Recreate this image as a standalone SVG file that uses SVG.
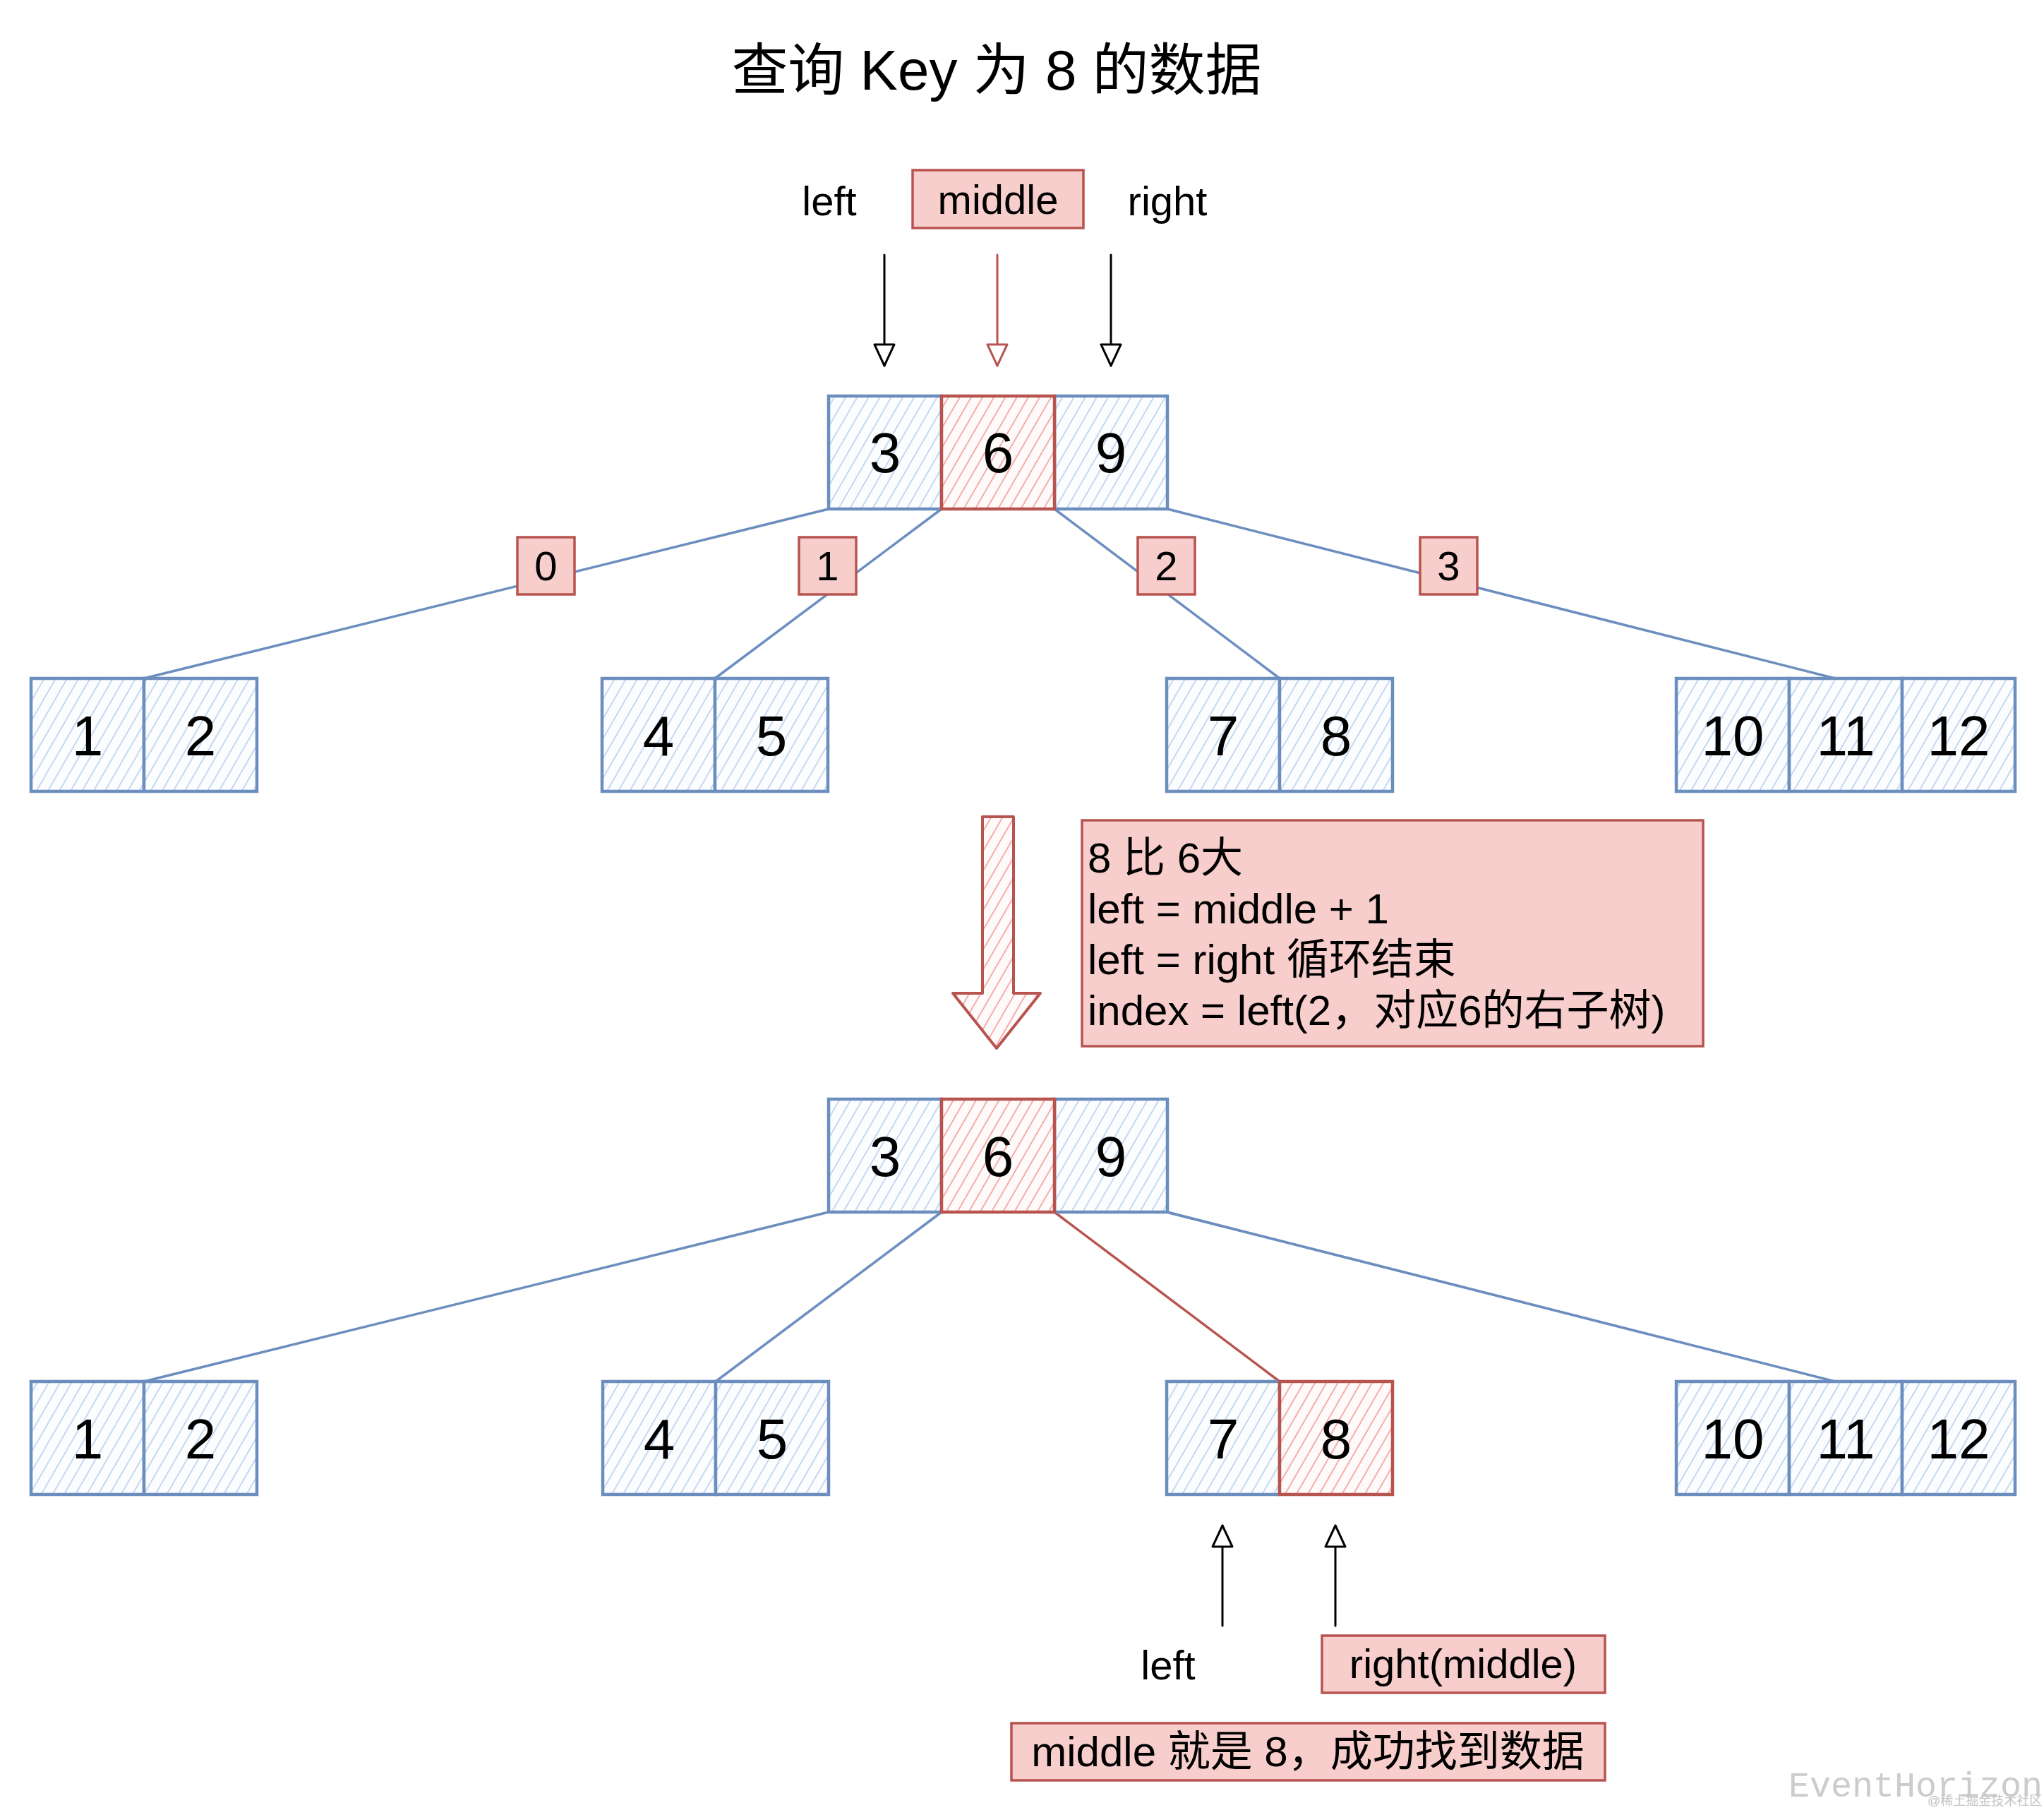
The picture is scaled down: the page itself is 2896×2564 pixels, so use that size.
<svg xmlns="http://www.w3.org/2000/svg" width="2896" height="2564" viewBox="0 0 2896 2564">
<defs>
<pattern id="hb" width="14" height="14" patternUnits="userSpaceOnUse" patternTransform="rotate(30)">
<rect width="14" height="14" fill="#fbfdff"/>
<line x1="3" y1="0" x2="3" y2="14" stroke="#c6d8f0" stroke-width="2"/>
</pattern>
<pattern id="hr" width="14" height="14" patternUnits="userSpaceOnUse" patternTransform="rotate(30)">
<rect width="14" height="14" fill="#fffafa"/>
<line x1="3" y1="0" x2="3" y2="14" stroke="#f2aeac" stroke-width="2"/>
</pattern>
<marker id="ak" viewBox="-3 -17 36 34" markerWidth="36" markerHeight="34" refX="30" refY="0" orient="auto" markerUnits="userSpaceOnUse">
<path d="M0,-14 L30,0 L0,14 Z" fill="#fff" stroke="#000" stroke-width="3" stroke-linejoin="round"/>
</marker>
<marker id="ar" viewBox="-3 -17 36 34" markerWidth="36" markerHeight="34" refX="30" refY="0" orient="auto" markerUnits="userSpaceOnUse">
<path d="M0,-14 L30,0 L0,14 Z" fill="#fff" stroke="#b85450" stroke-width="3" stroke-linejoin="round"/>
</marker>
</defs>
<style>
text{font-family:"Liberation Sans","Noto Sans CJK SC",sans-serif;fill:#000}
.title{font-size:80px;text-anchor:middle}
.lbl{font-size:58px;text-anchor:middle}
.num{font-size:80px;text-anchor:middle}
.info{font-size:60px}
.cb{fill:url(#hb);stroke:#6c8ebf;stroke-width:4.5}
.cr{fill:url(#hr);stroke:#b85450;stroke-width:4.5}
.box{fill:#f8cecc;stroke:#b85450;stroke-width:3.5}
.conn line{stroke:#6c8ebf;stroke-width:3.5;stroke-linecap:round}
.conn line.red{stroke:#b85450}
.conn line.ak{stroke:#000;stroke-width:3;marker-end:url(#ak)}
.conn line.ar{stroke:#b85450;stroke-width:3;marker-end:url(#ar)}
.wm{font-family:"Liberation Mono",monospace;font-size:50px;fill:#cccccc}
.wm2{font-size:18px;fill:#c4c4c4}
</style>
<rect width="2896" height="2564" fill="#ffffff"/>

<text class="title" x="1412" y="127">查询 Key 为 8 的数据</text>

<g id="connectors" class="conn">
<line x1="1174" y1="721" x2="204" y2="961"/>
<line x1="1334" y1="721" x2="1013" y2="961"/>
<line x1="1494" y1="721" x2="1813" y2="961"/>
<line x1="1654" y1="721" x2="2600" y2="961"/>
<line x1="1174" y1="1717" x2="204" y2="1957"/>
<line x1="1334" y1="1717" x2="1014" y2="1957"/>
<line class="red" x1="1494" y1="1717" x2="1813" y2="1957"/>
<line x1="1654" y1="1717" x2="2600" y2="1957"/>
<line x1="1657" y1="1719" x2="2597" y2="1956" style="stroke-width:2"/>
<line class="ak" x1="1253" y1="361" x2="1253" y2="518"/>
<line class="ar" x1="1413" y1="361" x2="1413" y2="518"/>
<line class="ak" x1="1574" y1="361" x2="1574" y2="518"/>
<line class="ak" x1="1732" y1="2303" x2="1732" y2="2161"/>
<line class="ak" x1="1892" y1="2303" x2="1892" y2="2161"/>
</g>

<g id="label-left-top"><text class="lbl" x="1175" y="305">left</text></g>
<g id="label-middle-top"><rect class="box" x="1293" y="241" width="242" height="82"/><text class="lbl" x="1414" y="303">middle</text></g>
<g id="label-right-top"><text class="lbl" x="1654" y="305">right</text></g>

<g id="root1">
<rect class="cb" x="1174" y="561" width="160" height="160"/>
<rect class="cb" x="1494" y="561" width="160" height="160"/>
<rect class="cr" x="1334" y="561" width="160" height="160"/>
<text class="num" x="1254" y="669">3</text>
<text class="num" x="1414" y="669">6</text>
<text class="num" x="1574" y="669">9</text>
</g>

<g id="idx0"><rect class="box" x="733" y="761" width="81" height="81"/><text class="lbl" x="773.5" y="822">0</text></g>
<g id="idx1"><rect class="box" x="1132" y="761" width="81" height="81"/><text class="lbl" x="1172.5" y="822">1</text></g>
<g id="idx2"><rect class="box" x="1612" y="761" width="81" height="81"/><text class="lbl" x="1652.5" y="822">2</text></g>
<g id="idx3"><rect class="box" x="2012" y="761" width="81" height="81"/><text class="lbl" x="2052.5" y="822">3</text></g>

<g id="leaf1-12">
<rect class="cb" x="44" y="961" width="160" height="160"/>
<rect class="cb" x="204" y="961" width="160" height="160"/>
<text class="num" x="124" y="1070">1</text>
<text class="num" x="284" y="1070">2</text>
</g>
<g id="leaf1-45">
<rect class="cb" x="853" y="961" width="160" height="160"/>
<rect class="cb" x="1013" y="961" width="160" height="160"/>
<text class="num" x="933" y="1070">4</text>
<text class="num" x="1093" y="1070">5</text>
</g>
<g id="leaf1-78">
<rect class="cb" x="1653" y="961" width="160" height="160"/>
<rect class="cb" x="1813" y="961" width="160" height="160"/>
<text class="num" x="1733" y="1070">7</text>
<text class="num" x="1893" y="1070">8</text>
</g>
<g id="leaf1-101112">
<rect class="cb" x="2375" y="961" width="160" height="160"/>
<rect class="cb" x="2535" y="961" width="160" height="160"/>
<rect class="cb" x="2695" y="961" width="160" height="160"/>
<text class="num" x="2455" y="1070">10</text>
<text class="num" x="2615" y="1070">11</text>
<text class="num" x="2775" y="1070">12</text>
</g>

<g id="big-arrow">
<polygon points="1392,1157 1436,1157 1436,1407 1474,1407 1412,1485 1350,1407 1392,1407" fill="url(#hr)" stroke="#b85450" stroke-width="4" stroke-linejoin="round"/>
</g>

<g id="info">
<rect class="box" x="1533" y="1162" width="880" height="320"/>
<text class="info" x="1541" y="1236"><tspan x="1541" y="1236">8 比 6大</tspan><tspan x="1541" y="1308">left = middle + 1</tspan><tspan x="1541" y="1380">left = right 循环结束</tspan><tspan x="1541" y="1452">index = left(2，对应6的右子树)</tspan></text>
</g>

<g id="root2">
<rect class="cb" x="1174" y="1557" width="160" height="160"/>
<rect class="cb" x="1494" y="1557" width="160" height="160"/>
<rect class="cr" x="1334" y="1557" width="160" height="160"/>
<text class="num" x="1254" y="1666">3</text>
<text class="num" x="1414" y="1666">6</text>
<text class="num" x="1574" y="1666">9</text>
</g>

<g id="leaf2-12">
<rect class="cb" x="44" y="1957" width="160" height="160"/>
<rect class="cb" x="204" y="1957" width="160" height="160"/>
<text class="num" x="124" y="2066">1</text>
<text class="num" x="284" y="2066">2</text>
</g>
<g id="leaf2-45">
<rect class="cb" x="854" y="1957" width="160" height="160"/>
<rect class="cb" x="1014" y="1957" width="160" height="160"/>
<text class="num" x="934" y="2066">4</text>
<text class="num" x="1094" y="2066">5</text>
</g>
<g id="leaf2-78">
<rect class="cb" x="1653" y="1957" width="160" height="160"/>
<rect class="cr" x="1813" y="1957" width="160" height="160"/>
<text class="num" x="1733" y="2066">7</text>
<text class="num" x="1893" y="2066">8</text>
</g>
<g id="leaf2-101112">
<rect class="cb" x="2375" y="1957" width="160" height="160"/>
<rect class="cb" x="2535" y="1957" width="160" height="160"/>
<rect class="cb" x="2695" y="1957" width="160" height="160"/>
<text class="num" x="2455" y="2066">10</text>
<text class="num" x="2615" y="2066">11</text>
<text class="num" x="2775" y="2066">12</text>
</g>

<g id="label-left-bottom"><text class="lbl" x="1655" y="2379">left</text></g>
<g id="label-right-middle"><rect class="box" x="1873" y="2317" width="401" height="81"/><text class="lbl" x="2073" y="2377">right(middle)</text></g>
<g id="result"><rect class="box" x="1433" y="2441" width="841" height="81"/><text class="lbl" x="1853" y="2502" style="font-size:60px">middle 就是 8，成功找到数据</text></g>

<g id="watermark">
<text class="wm" x="2534" y="2545">EventHorizon</text>
<text class="wm2" x="2731" y="2557">@稀土掘金技术社区</text>
</g>
</svg>
